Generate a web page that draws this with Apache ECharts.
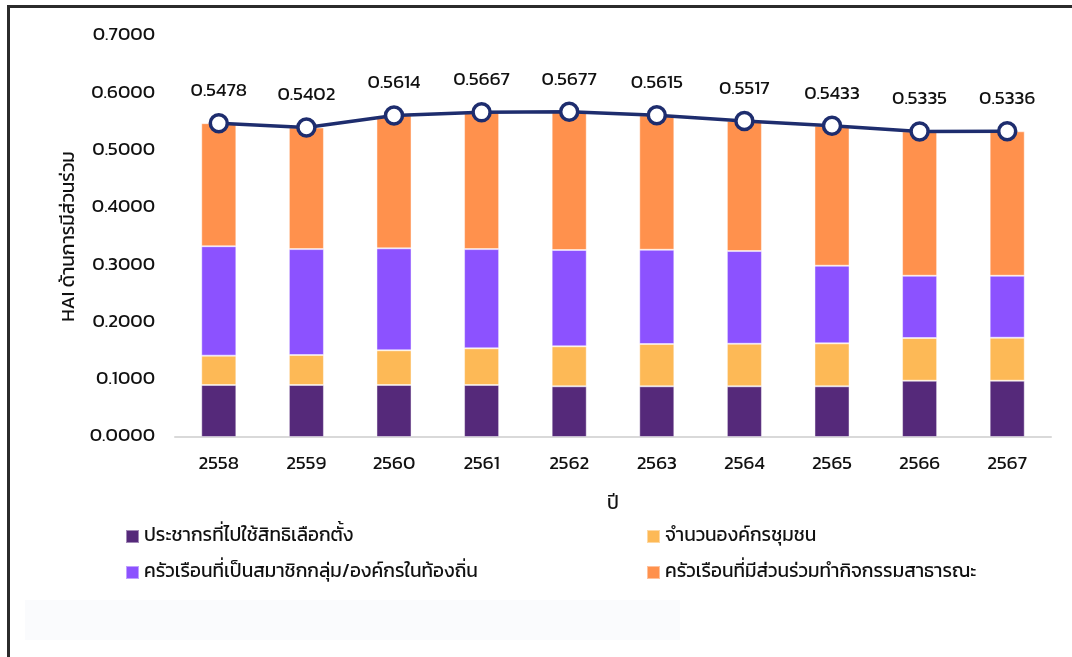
<!DOCTYPE html>
<html>
<head>
<meta charset="utf-8">
<script src="https://cdn.jsdelivr.net/npm/echarts@6/dist/echarts.min.js"></script>
<style>
  html, body { margin: 0; padding: 0; background: #fff; }
  #main { width: 1072px; height: 657px; }
</style>
</head>
<body>
<div id="main"></div>
<script>
// ปีข้อมูล
var years = ['2558', '2559', '2560', '2561', '2562', '2563', '2564', '2565', '2566', '2567'];
// องค์ประกอบของดัชนี (ค่าแต่ละชั้น)
var voters = [0.0908, 0.0908, 0.0908, 0.0908, 0.0885, 0.0885, 0.0885, 0.0885, 0.0983, 0.0983];
var communityOrgs = [0.0512, 0.0523, 0.0605, 0.0640, 0.0698, 0.0738, 0.0743, 0.0750, 0.0745, 0.0750];
var groupMembers = [0.1910, 0.1849, 0.1780, 0.1732, 0.1681, 0.1646, 0.1618, 0.1355, 0.1087, 0.1082];
var publicActivity = [0.2148, 0.2122, 0.2321, 0.2387, 0.2413, 0.2346, 0.2271, 0.2443, 0.2520, 0.2521];
// ค่ารวม HAI
var haiTotal = [0.5478, 0.5402, 0.5614, 0.5667, 0.5677, 0.5615, 0.5517, 0.5433, 0.5335, 0.5336];

var seriesNames = [
    'ประชากรที่ไปใช้สิทธิเลือกตั้ง',
    'จำนวนองค์กรชุมชน',
    'ครัวเรือนที่เป็นสมาชิกกลุ่ม/องค์กรในท้องถิ่น',
    'ครัวเรือนที่มีส่วนร่วมทำกิจกรรมสาธารณะ'
];
var colors = ['#55297a', '#fdb956', '#8c52ff', '#ff914d'];
var fontName = 'Kanit, Prompt, "Noto Sans Thai", "Noto Sans", sans-serif';

var myChart = echarts.init(document.getElementById('main'));

function barSeries(i, data) {
    return {
        name: seriesNames[i],
        type: 'bar',
        stack: 'hai',
        barWidth: '40%',
        data: data,
        itemStyle: {
            color: colors[i],
            borderColor: 'rgba(255,255,255,0.45)',
            borderWidth: 1
        }
    };
}

var legendText = { fontSize: 19, color: '#111', fontFamily: fontName };

var option = {
    backgroundColor: '#fff',
    animation: false,
    textStyle: { fontFamily: fontName },
    grid: { left: 175, right: 21, top: 36, bottom: 220 },
    legend: [
        {
            orient: 'vertical',
            left: 120,
            top: 522,
            itemWidth: 13,
            itemHeight: 13,
            itemGap: 17,
            icon: 'rect',
            textStyle: legendText,
            data: [seriesNames[0], seriesNames[2]]
        },
        {
            orient: 'vertical',
            left: 641,
            top: 522,
            itemWidth: 13,
            itemHeight: 13,
            itemGap: 17,
            icon: 'rect',
            textStyle: legendText,
            data: [seriesNames[1], seriesNames[3]]
        }
    ],
    xAxis: {
        type: 'category',
        data: years,
        name: 'ปี',
        nameLocation: 'middle',
        nameGap: 58,
        nameTextStyle: { fontSize: 19, color: '#111' },
        axisLine: { lineStyle: { color: '#d9d9d9', width: 2 } },
        axisTick: { show: false },
        axisLabel: { fontSize: 19, color: '#111', margin: 18 }
    },
    yAxis: {
        type: 'value',
        min: 0,
        max: 0.7,
        interval: 0.1,
        name: 'HAI ด้านการมีส่วนร่วม',
        nameLocation: 'middle',
        nameGap: 96,
        nameTextStyle: { fontSize: 19, color: '#111' },
        axisLine: { show: false },
        axisTick: { show: false },
        splitLine: { show: false },
        axisLabel: {
            fontSize: 19,
            color: '#111',
            margin: 20,
            formatter: function (v) { return v.toFixed(4); }
        }
    },
    series: [
        barSeries(0, voters),
        barSeries(1, communityOrgs),
        barSeries(2, groupMembers),
        barSeries(3, publicActivity),
        {
            name: 'HAI',
            type: 'line',
            data: haiTotal,
            symbol: 'circle',
            symbolSize: 17,
            z: 10,
            lineStyle: { color: '#1e2d6e', width: 3.5 },
            itemStyle: { color: '#fff', borderColor: '#1e2d6e', borderWidth: 3.5 },
            label: {
                show: true,
                position: 'top',
                distance: 12,
                fontSize: 19,
                color: '#111',
                formatter: function (p) { return p.value.toFixed(4); }
            }
        }
    ],
    graphic: [
        // กรอบด้านซ้ายและด้านบน
        { type: 'rect', shape: { x: 7, y: 5, width: 1070, height: 3 }, style: { fill: '#2b2b2b' } },
        { type: 'rect', shape: { x: 7, y: 5, width: 3, height: 660 }, style: { fill: '#2b2b2b' } },
        // แถบพื้นหลังจางด้านล่าง
        { type: 'rect', shape: { x: 25, y: 600, width: 655, height: 40 }, style: { fill: '#fafbfd' } }
    ]
};

myChart.setOption(option);
</script>
</body>
</html>
